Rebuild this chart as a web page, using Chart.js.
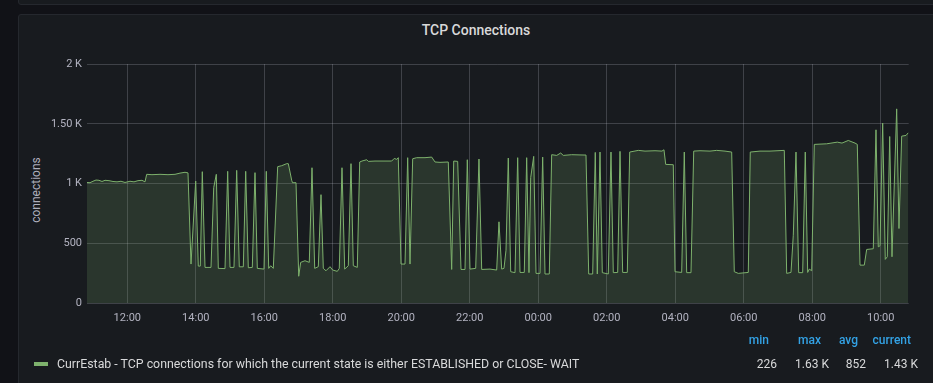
<!DOCTYPE html>
<html>
<head>
<meta charset="utf-8">
<script src="https://cdn.jsdelivr.net/npm/chart.js@4"></script>
<style>
html,body{margin:0;padding:0;background:#111217;width:933px;height:383px;overflow:hidden;font-family:Roboto,"Noto Sans",sans-serif;}
.panel{position:absolute;background:#181b1f;border:1px solid #25282e;border-radius:3px;box-sizing:border-box;}
#p0{left:18px;top:-30px;width:930px;height:35px;}
#p1{left:18px;top:14px;width:930px;height:400px;}
#title{position:absolute;left:18px;width:916px;top:22px;text-align:center;color:#d8d9da;font-size:14px;font-weight:500;line-height:17px;}
#ytitle{position:absolute;left:35.8px;top:190px;transform:translate(-50%,-50%) rotate(-90deg);color:rgba(204,204,220,0.85);font-size:12px;line-height:14px;white-space:nowrap;}
canvas{position:absolute;left:0;top:0;}
.lg{position:absolute;font-size:12px;line-height:14px;white-space:nowrap;}
.hd{color:#33a2e5;font-weight:500;}
.val{color:#d8d9da;}
.name{font-size:12.35px;}
#swatch{position:absolute;left:34px;top:362px;width:14px;height:4px;background:#7eb26d;}
</style>
</head>
<body>
<div class="panel" id="p0"></div>
<div class="panel" id="p1"></div>
<div id="title"></div>
<div id="ytitle"></div>
<canvas id="c" width="933" height="383"></canvas>
<div id="swatch"></div>
<div id="legend"></div>
<script>
// ---- data ----
const chartTitle = "TCP Connections";
const yAxisTitle = "connections";
const seriesName = "CurrEstab - TCP connections for which the current state is either ESTABLISHED or CLOSE- WAIT";
// hours since midnight of first day (values > 24 are next day)
const times = [
10.823,10.911,10.998,11.086,11.173,11.261,11.349,11.465,11.582,11.699,11.816,11.933,12.079,12.195,12.312,12.429,12.517,12.566,12.721,12.955,
13.188,13.393,13.539,13.685,13.772,13.860,13.997,14.073,14.131,14.190,14.269,14.444,14.523,14.599,14.657,14.853,14.931,14.999,15.115,15.194,
15.270,15.387,15.457,15.533,15.650,15.729,15.796,15.991,16.059,16.129,16.187,16.263,16.391,16.508,16.654,16.701,16.800,16.824,16.926,17.005,
17.063,17.189,17.314,17.393,17.472,17.577,17.656,17.723,17.802,17.919,17.997,18.132,18.190,18.269,18.348,18.453,18.532,18.599,18.716,18.786,
18.853,18.990,19.037,19.233,19.525,19.720,19.796,19.866,19.913,19.992,20.109,20.187,20.255,20.333,20.450,20.693,20.888,20.985,21.131,21.373,
21.472,21.531,21.647,21.744,21.861,21.928,22.007,22.173,22.269,22.348,22.591,22.786,22.853,22.932,22.999,23.058,23.125,23.195,23.321,23.399,
23.467,23.592,23.662,23.729,23.779,23.867,23.934,24.051,24.129,24.197,24.322,24.392,24.538,24.655,24.731,24.976,25.219,25.394,25.473,25.589,
25.665,25.724,25.803,25.870,26.045,26.124,26.191,26.319,26.387,26.465,26.600,26.670,26.921,27.117,27.409,27.613,27.671,27.721,27.943,27.993,
28.188,28.264,28.334,28.460,28.539,28.723,29.015,29.210,29.453,29.648,29.724,29.841,30.133,30.191,30.475,30.767,31.184,31.254,31.380,31.447,
31.526,31.605,31.721,31.797,31.867,31.914,31.984,32.060,32.422,32.732,32.869,33.053,33.249,33.316,33.395,33.520,33.590,33.783,33.862,33.929,
33.979,34.057,34.133,34.192,34.262,34.329,34.466,34.533,34.612,34.738,34.805
];
const values = [
1010,1008,1020,1030,1028,1018,1028,1025,1018,1015,1020,1010,1020,1015,1025,1028,1015,1078,1075,1078,
1075,1078,1088,1095,1090,328,1022,311,311,1100,300,300,967,1078,292,290,1103,300,300,1111,
305,305,1103,297,300,1092,292,286,1103,292,314,292,1142,1150,1167,1167,1028,1008,1008,226,
342,356,342,1133,292,306,908,292,272,306,278,267,292,1133,286,314,1167,314,300,1181,
1189,1200,1186,1189,1189,1189,1211,1203,1217,328,328,1217,328,1208,1217,1217,1222,1181,1178,1181,
283,1189,1186,283,283,1200,286,292,1206,283,286,278,681,286,292,444,1214,264,256,1217,
258,258,1217,256,1050,1228,250,250,1222,245,245,1242,1236,1256,1236,1242,1240,1239,245,245,
1261,245,1264,256,245,1264,256,258,1270,258,258,1264,1278,1272,1275,1272,1283,1161,1158,264,
258,1264,256,256,1272,1275,1272,1278,1272,1264,264,250,258,1264,1272,1272,1278,250,258,569,
1264,256,256,1264,258,286,272,1328,1333,1347,1339,1361,1339,1328,319,319,450,456,1450,472,
481,1506,367,389,1394,389,1625,625,1397,1403,1425
];
const xMin = 10.823, xMax = 34.817;
const xTickValues = [12,14,16,18,20,22,24,26,28,30,32,34];
const xTickLabels = ["12:00","14:00","16:00","18:00","20:00","22:00","00:00","02:00","04:00","06:00","08:00","10:00"];
const yTickValues = [0,500,1000,1500,2000];
const yTickLabels = ["0","500","1 K","1.50 K","2 K"];
const statHeaders = ["min","max","avg","current"];
const statValues = ["226","1.63 K","852","1.43 K"];

document.getElementById('title').textContent = chartTitle;
document.getElementById('ytitle').textContent = yAxisTitle;

// ---- chart ----
const tickColor = 'rgba(204,204,220,0.85)';
const gridColor = 'rgba(204,204,220,0.22)';
new Chart(document.getElementById('c'), {
  type: 'line',
  data: {
    datasets: [{
      label: seriesName,
      data: times.map((t, i) => ({x: t, y: values[i]})),
      borderColor: '#7eb26d',
      backgroundColor: 'rgba(126,178,109,0.18)',
      borderWidth: 1,
      pointRadius: 0,
      fill: 'origin',
      tension: 0
    }]
  },
  options: {
    responsive: false,
    animation: false,
    devicePixelRatio: 1,
    layout: {padding: {left: 20, right: 24.3, top: 64, bottom: 49.7}},
    plugins: {legend: {display: false}, tooltip: {enabled: false}},
    scales: {
      x: {
        type: 'linear', min: xMin, max: xMax,
        afterBuildTicks: s => { s.ticks = xTickValues.map(v => ({value: v})); },
        afterFit: s => { s.height = 30; },
        ticks: {callback: (v, i) => xTickLabels[i], color: tickColor, font: {family: 'Roboto', size: 11}, padding: 8, maxRotation: 0, autoSkip: false},
        grid: {color: gridColor, drawTicks: false},
        border: {display: false}
      },
      y: {
        min: 0, max: 2000,
        afterBuildTicks: s => { s.ticks = yTickValues.map(v => ({value: v})); },
        afterFit: s => { s.width = 67; },
        ticks: {callback: (v, i) => yTickLabels[i], color: tickColor, font: {family: 'Roboto', size: 11}, padding: 5},
        grid: {color: gridColor, drawTicks: false},
        border: {display: false},
        title: {display: false}
      }
    }
  }
});

// ---- legend ----
const lg = document.getElementById('legend');
const hdRight = [769, 821, 858, 911];
const valRight = [777, 829, 866, 918];
function addText(txt, cls, right, top, left) {
  const d = document.createElement('div');
  d.className = 'lg ' + cls;
  d.textContent = txt;
  d.style.top = top + 'px';
  if (left !== undefined) d.style.left = left + 'px';
  else d.style.right = (933 - right) + 'px';
  lg.appendChild(d);
}
statHeaders.forEach((h, i) => addText(h, 'hd', hdRight[i], 333));
statValues.forEach((v, i) => addText(v, 'val', valRight[i], 357));
addText(seriesName, 'val name', 0, 357, 57);
</script>
</body>
</html>
